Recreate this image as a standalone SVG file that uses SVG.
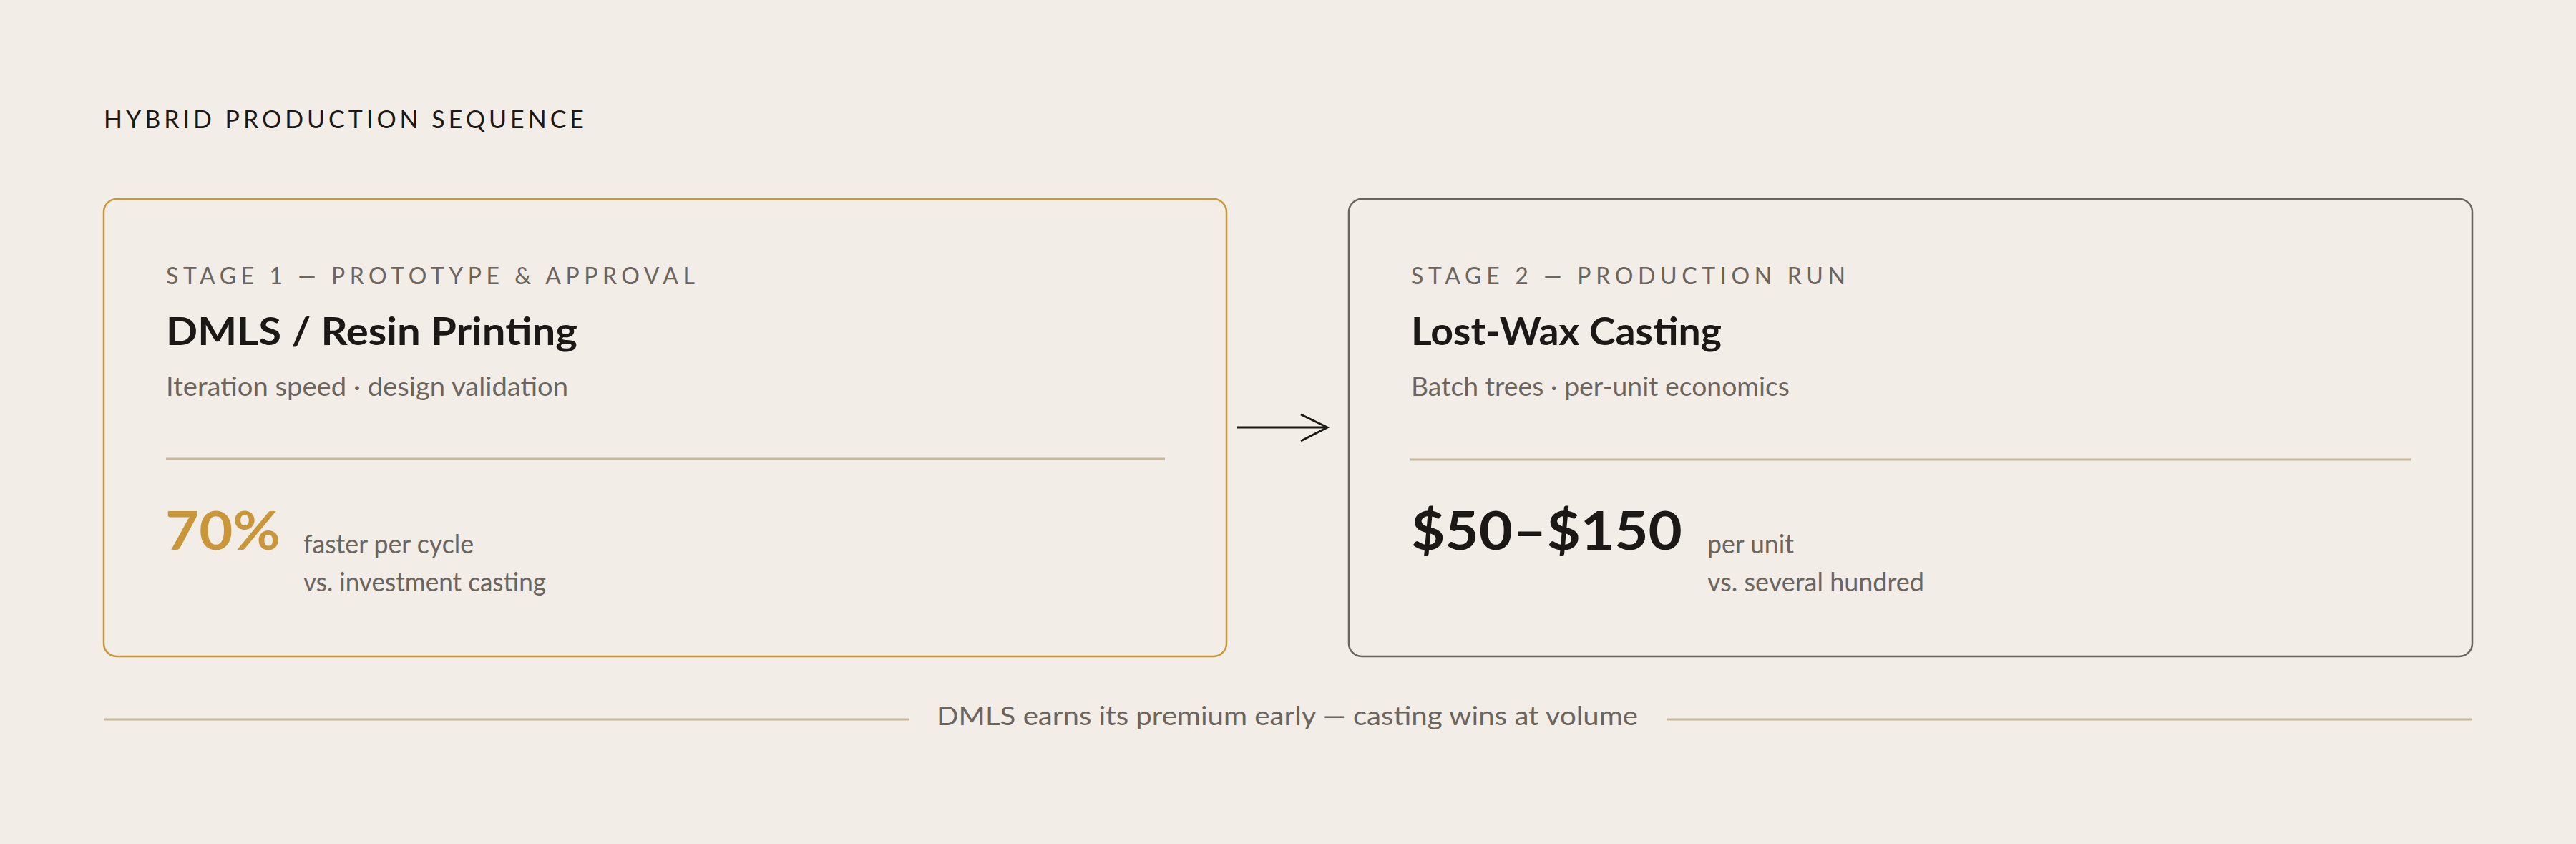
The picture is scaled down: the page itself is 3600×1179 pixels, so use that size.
<svg xmlns="http://www.w3.org/2000/svg" width="3600" height="1179" viewBox="0 0 3600 1179">
<style>
text{font-family:Lato,"Noto Sans","Liberation Sans",sans-serif}
.kick{font-size:34px;fill:#1c1815;font-weight:400}
.stage{font-size:32px;fill:#6b655e;font-weight:400}
.ttl{font-size:54px;fill:#1c1815;font-weight:700}
.sub{font-size:37px;fill:#6b655e;font-weight:400}
.big{font-size:74px;font-weight:700}
.note{font-size:36px;fill:#6b655e;font-weight:400}
.foot{font-size:36px;fill:#6b655e;font-weight:400}
.div{stroke:#c8b89a;stroke-width:3}
</style>
<rect width="3600" height="1179" fill="#f2ede7"/>
<text id="heading" class="kick" x="145" y="179" textLength="671" lengthAdjust="spacing">HYBRID PRODUCTION SEQUENCE</text>
<g id="stage1">
<rect x="145" y="278" width="1569" height="639" rx="18" fill="none" stroke="#c9963a" stroke-width="2.5"/>
<text class="stage" x="232" y="397" textLength="739" lengthAdjust="spacing">STAGE 1 — PROTOTYPE &amp; APPROVAL</text>
<text class="ttl" x="232" y="482" textLength="575" lengthAdjust="spacingAndGlyphs">DMLS / Resin Printing</text>
<text class="sub" x="232" y="553" textLength="562" lengthAdjust="spacingAndGlyphs">Iteration speed · design validation</text>
<line class="div" x1="232" y1="641" x2="1628" y2="641"/>
<text class="big" x="231" y="768" fill="#c9963a" textLength="161" lengthAdjust="spacingAndGlyphs">70%</text>
<text class="note" x="424" y="773" textLength="238" lengthAdjust="spacingAndGlyphs">faster per cycle</text>
<text class="note" x="424" y="826" textLength="339" lengthAdjust="spacingAndGlyphs">vs. investment casting</text>
</g>
<g id="stage2">
<rect x="1885" y="278" width="1570" height="639" rx="18" fill="none" stroke="#6b655e" stroke-width="2.5"/>
<text class="stage" x="1972" y="397" textLength="607" lengthAdjust="spacing">STAGE 2 — PRODUCTION RUN</text>
<text class="ttl" x="1972" y="482" textLength="434" lengthAdjust="spacingAndGlyphs">Lost-Wax Casting</text>
<text class="sub" x="1972" y="553" textLength="529" lengthAdjust="spacingAndGlyphs">Batch trees · per-unit economics</text>
<line class="div" x1="1971" y1="642" x2="3369" y2="642"/>
<text class="big" x="1972" y="768" fill="#1c1815" textLength="379" lengthAdjust="spacingAndGlyphs">$50–$150</text>
<text class="note" x="2386" y="773" textLength="121" lengthAdjust="spacingAndGlyphs">per unit</text>
<text class="note" x="2386" y="826" textLength="303" lengthAdjust="spacingAndGlyphs">vs. several hundred</text>
</g>
<g id="connectors">
<line x1="1729" y1="597" x2="1853" y2="597" stroke="#1c1815" stroke-width="3"/>
<polyline points="1818,579 1855,597 1818,616" fill="none" stroke="#1c1815" stroke-width="3"/>
</g>
<g id="footer">
<line class="div" x1="145" y1="1005" x2="1271" y2="1005"/>
<line class="div" x1="2329" y1="1005" x2="3455" y2="1005"/>
<text class="foot" x="1309" y="1013" textLength="980" lengthAdjust="spacingAndGlyphs">DMLS earns its premium early — casting wins at volume</text>
</g>
</svg>
